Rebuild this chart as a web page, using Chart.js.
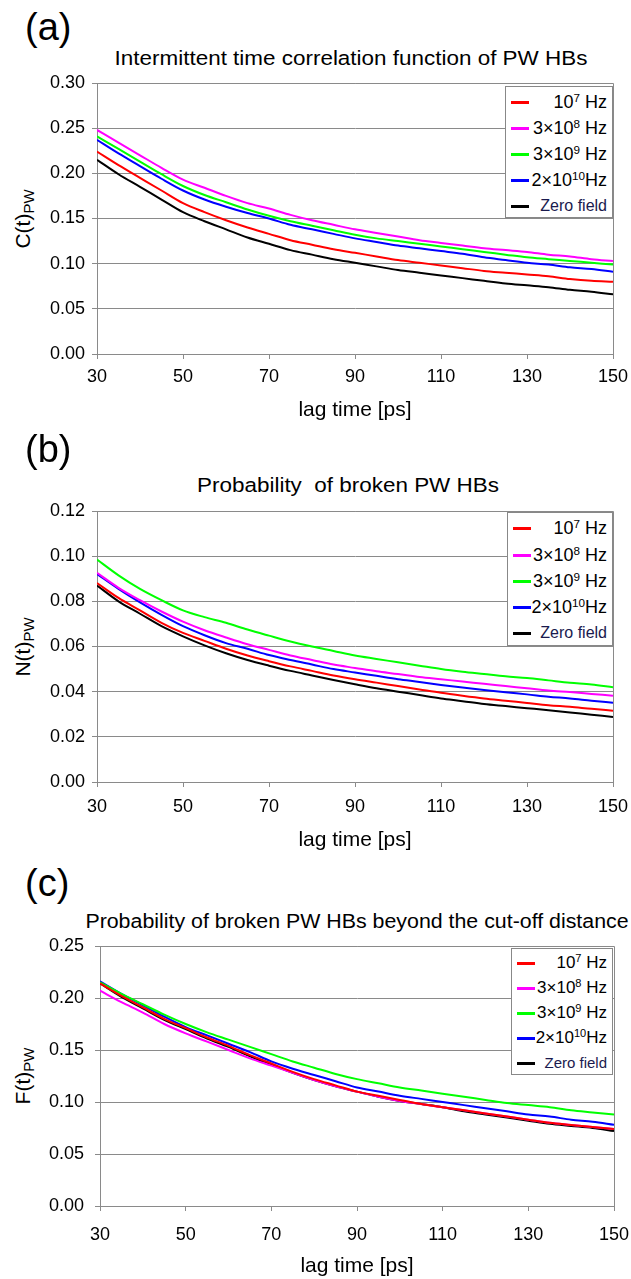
<!DOCTYPE html>
<html>
<head>
<meta charset="utf-8">
<script src="https://cdn.jsdelivr.net/npm/chart.js@4.4.0/dist/chart.umd.min.js"></script>
<style>
  body { margin: 0; background: #fff; font-family: "Liberation Sans", Arial, sans-serif; }
  #page { position: relative; width: 631px; height: 1279px; overflow: hidden; }
  canvas { position: absolute; left: 0; }
  .tag { position: absolute; font-size: 38px; line-height: 38px; }
  .title { position: absolute; white-space: pre; line-height: 22px; transform: translateX(-50%) scaleX(1.095); }
  .ylab { position: absolute; font-size: 21px; line-height: 24px; white-space: nowrap;
          transform: translate(-50%, -50%) rotate(-90deg); }
  .ylab sub { font-size: 15px; vertical-align: -4px; }
  .legend { position: absolute; border: 1px solid #888; background: #fff; box-sizing: border-box; }
  .legend .swatch { position: absolute; height: 3px; }
  .legend .txt { position: absolute; line-height: 20px; white-space: nowrap; text-align: right; }
  .legend sup { font-size: 0.65em; vertical-align: 0.55em; line-height: 0; }
</style>
</head>
<body>
<div id="page"></div>
<script>
/* ===== data ===== */
const lagTimes = [30, 35, 40, 45, 50, 55, 60, 65, 70, 75, 80, 85, 90,
                  95, 100, 105, 110, 115, 120, 125, 130, 135, 140, 145, 150];
const xTicks = [30, 50, 70, 90, 110, 130, 150];

const fieldBase = ["10", "3×10", "3×10", "2×10", "Zero field"];
const fieldExp  = ["7", "8", "9", "10", ""];
const fieldTail = [" Hz", " Hz", " Hz", "Hz", ""];
const fieldColors = ["#ff0000", "#ff00ff", "#00ff00", "#0000ff", "#000000"];

/* (a) intermittent time correlation function C(t) */
const corr_1e7  = [0.224,0.209,0.195,0.181,0.167,0.157,0.148,0.140,0.133,0.126,0.121,0.116,0.112,0.108,0.104,0.101,0.098,0.095,0.092,0.090,0.088,0.086,0.083,0.081,0.080];
const corr_3e8  = [0.248,0.234,0.220,0.206,0.193,0.184,0.175,0.167,0.161,0.154,0.148,0.143,0.138,0.134,0.130,0.126,0.123,0.120,0.117,0.115,0.113,0.110,0.108,0.105,0.103];
const corr_3e9  = [0.241,0.227,0.213,0.199,0.186,0.176,0.168,0.160,0.153,0.147,0.142,0.137,0.132,0.128,0.125,0.122,0.119,0.116,0.113,0.110,0.107,0.105,0.103,0.101,0.099];
const corr_2e10 = [0.237,0.222,0.208,0.194,0.181,0.171,0.163,0.156,0.150,0.143,0.138,0.133,0.128,0.124,0.120,0.117,0.114,0.111,0.107,0.104,0.101,0.099,0.096,0.094,0.091];
const corr_zero = [0.215,0.199,0.185,0.171,0.157,0.147,0.138,0.129,0.122,0.115,0.110,0.105,0.101,0.097,0.093,0.090,0.087,0.084,0.081,0.078,0.076,0.074,0.071,0.069,0.066];
const corrTicks = [0, 0.05, 0.10, 0.15, 0.20, 0.25, 0.30];

/* (b) probability of broken HBs N(t) */
const broken_1e7  = [0.0881,0.0815,0.0760,0.0705,0.0660,0.0625,0.0590,0.0560,0.0535,0.0512,0.0492,0.0472,0.0455,0.0440,0.0425,0.0410,0.0395,0.0382,0.0370,0.0360,0.0350,0.0340,0.0333,0.0324,0.0316];
const broken_3e8  = [0.0926,0.0860,0.0805,0.0755,0.0710,0.0672,0.0640,0.0610,0.0585,0.0560,0.0540,0.0520,0.0505,0.0490,0.0478,0.0465,0.0455,0.0445,0.0435,0.0425,0.0415,0.0405,0.0398,0.0390,0.0382];
const broken_3e9  = [0.0985,0.0915,0.0855,0.0805,0.0760,0.0730,0.0705,0.0675,0.0648,0.0622,0.0600,0.0580,0.0560,0.0545,0.0530,0.0515,0.0500,0.0488,0.0478,0.0468,0.0460,0.0450,0.0440,0.0432,0.0420];
const broken_2e10 = [0.0921,0.0855,0.0795,0.0740,0.0690,0.0650,0.0615,0.0590,0.0562,0.0540,0.0520,0.0500,0.0485,0.0470,0.0455,0.0443,0.0430,0.0418,0.0407,0.0397,0.0388,0.0378,0.0370,0.0360,0.0351];
const broken_zero = [0.0870,0.0800,0.0745,0.0690,0.0645,0.0605,0.0570,0.0540,0.0515,0.0492,0.0472,0.0452,0.0433,0.0415,0.0400,0.0385,0.0370,0.0358,0.0345,0.0336,0.0327,0.0318,0.0308,0.0298,0.0288];
const brokenTicks = [0, 0.02, 0.04, 0.06, 0.08, 0.10, 0.12];

/* (c) broken beyond the cut-off distance F(t) */
const beyond_1e7  = [0.214,0.202,0.191,0.180,0.171,0.162,0.154,0.145,0.137,0.129,0.122,0.116,0.110,0.106,0.102,0.098,0.095,0.092,0.089,0.086,0.083,0.080,0.078,0.076,0.074];
const beyond_3e8  = [0.207,0.196,0.186,0.175,0.166,0.158,0.150,0.142,0.135,0.128,0.121,0.115,0.110,0.105,0.101,0.098,0.095,0.092,0.089,0.086,0.083,0.080,0.078,0.076,0.074];
const beyond_3e9  = [0.215,0.204,0.194,0.184,0.175,0.167,0.160,0.153,0.146,0.139,0.133,0.127,0.122,0.118,0.114,0.111,0.108,0.105,0.102,0.099,0.097,0.095,0.092,0.090,0.088];
const beyond_2e10 = [0.216,0.204,0.193,0.182,0.172,0.164,0.156,0.148,0.139,0.132,0.126,0.120,0.114,0.110,0.106,0.103,0.100,0.097,0.094,0.091,0.088,0.086,0.083,0.081,0.078];
const beyond_zero = [0.214,0.201,0.190,0.179,0.170,0.161,0.153,0.144,0.136,0.128,0.121,0.115,0.110,0.105,0.101,0.098,0.095,0.091,0.088,0.085,0.082,0.079,0.077,0.075,0.072];
const beyondTicks = [0, 0.05, 0.10, 0.15, 0.20, 0.25];

/* ===== layout of the three panels ===== */
const PANELS = [
  { tag: "(a)", tagTop: 8, title: "Intermittent time correlation function of PW HBs",
    titleX: 351, titleTop: 47, titleSize: 20.5, yName: "C(t)",
    series: [corr_1e7, corr_3e8, corr_3e9, corr_2e10, corr_zero], yTicks: corrTicks,
    top: 0, height: 430, left: 97, right: 613, areaTop: 83, areaBottom: 354,
    yPad: 7, xPad: 7, xTitlePad: 7,
    legend: { left: 505, top: 86, width: 108, height: 132, rows: [16, 42, 68, 94, 120], size: 18 } },
  { tag: "(b)", tagTop: 430, title: "Probability  of broken PW HBs",
    titleX: 348, titleTop: 474, titleSize: 20.5, yName: "N(t)",
    series: [broken_1e7, broken_3e8, broken_3e9, broken_2e10, broken_zero], yTicks: brokenTicks,
    top: 430, height: 430, left: 97, right: 613, areaTop: 511, areaBottom: 782,
    yPad: 7, xPad: 9, xTitlePad: 7,
    legend: { left: 507, top: 512, width: 106, height: 134, rows: [16, 43, 69, 95, 121], size: 18 } },
  { tag: "(c)", tagTop: 864, title: "Probability of broken PW HBs beyond the cut-off distance",
    titleX: 357, titleTop: 910, titleSize: 19.5, yName: "F(t)",
    series: [beyond_1e7, beyond_3e8, beyond_3e9, beyond_2e10, beyond_zero], yTicks: beyondTicks,
    top: 860, height: 419, left: 100, right: 614, areaTop: 946, areaBottom: 1206,
    yPad: 11, xPad: 13, xTitlePad: 0,
    legend: { left: 511, top: 948, width: 102, height: 127, rows: [15, 40, 65, 90, 115], size: 17 } }
];

const GRID = "#8a8a8a";
const FONT = "'Liberation Sans', Arial, sans-serif";

/* grey frame round the plot area (top and right sides) */
const framePlugin = {
  id: "frame",
  afterDraw(chart) {
    const { ctx, chartArea: a } = chart;
    const al = p => Math.round(p - 0.5) + 0.5;
    ctx.save();
    ctx.strokeStyle = GRID;
    ctx.lineWidth = 1;
    ctx.beginPath();
    ctx.moveTo(al(a.left), al(a.top));
    ctx.lineTo(al(a.right), al(a.top));
    ctx.lineTo(al(a.right), al(a.bottom));
    ctx.stroke();
    ctx.restore();
  }
};

const page = document.getElementById("page");

function addDiv(cls, html, style) {
  const d = document.createElement("div");
  d.className = cls;
  d.innerHTML = html;
  Object.assign(d.style, style);
  page.appendChild(d);
  return d;
}

function buildLegend(p) {
  const L = p.legend;
  const box = addDiv("legend", "", {
    left: L.left + "px", top: L.top + "px", width: L.width + "px", height: L.height + "px"
  });
  fieldBase.forEach((base, i) => {
    const sw = document.createElement("div");
    sw.className = "swatch";
    Object.assign(sw.style, {
      left: "5px", width: "18px", top: (L.rows[i] - 2.5) + "px", background: fieldColors[i]
    });
    box.appendChild(sw);
    const t = document.createElement("div");
    t.className = "txt";
    const zero = fieldExp[i] === "";
    t.innerHTML = base + (zero ? "" : "<sup>" + fieldExp[i] + "</sup>") + fieldTail[i];
    Object.assign(t.style, {
      right: "5px", top: (L.rows[i] - 11) + "px",
      fontSize: (zero ? L.size - 2 : L.size) + "px",
      color: zero ? "#1a1a4e" : "#000"
    });
    box.appendChild(t);
  });
}

function makePanel(p) {
  addDiv("tag", p.tag, { left: "25px", top: p.tagTop + "px" });
  addDiv("title", p.title, { left: p.titleX + "px", top: p.titleTop + "px", fontSize: p.titleSize + "px" });
  addDiv("ylab", p.yName + "<sub>PW</sub>", {
    left: "26px", top: ((p.areaTop + p.areaBottom) / 2) + "px"
  });

  const cv = document.createElement("canvas");
  cv.width = 631;
  cv.height = p.height;
  cv.style.top = p.top + "px";
  page.appendChild(cv);

  const yTicks = p.yTicks;
  const xAxisHeight = p.top + p.height - p.areaBottom;

  new Chart(cv.getContext("2d"), {
    type: "line",
    data: {
      datasets: p.series.map((vals, i) => ({
        label: fieldBase[i] + fieldExp[i] + fieldTail[i],
        data: vals.map((v, k) => ({ x: lagTimes[k], y: v })),
        borderColor: fieldColors[i],
        borderWidth: 2,
        pointRadius: 0,
        cubicInterpolationMode: "monotone",
        fill: false
      }))
    },
    options: {
      responsive: false,
      animation: false,
      devicePixelRatio: 1,
      layout: { padding: { top: p.areaTop - p.top, right: 631 - p.right, bottom: 0, left: 0 } },
      plugins: { legend: { display: false }, tooltip: { enabled: false } },
      scales: {
        x: {
          type: "linear",
          min: xTicks[0],
          max: xTicks[xTicks.length - 1],
          afterBuildTicks: s => { s.ticks = xTicks.map(v => ({ value: v })); },
          afterFit: s => { s.height = xAxisHeight; s.paddingLeft = 0; s.paddingRight = 0; },
          grid: { drawOnChartArea: false, tickLength: 5, color: GRID },
          border: { color: GRID },
          ticks: { color: "#000", font: { family: FONT, size: 18 }, padding: p.xPad,
                   maxRotation: 0, autoSkip: false },
          title: { display: true, text: "lag time [ps]", color: "#000",
                   font: { family: FONT, size: 21, lineHeight: 1.2 },
                   padding: { top: 0, bottom: p.xTitlePad } }
        },
        y: {
          min: yTicks[0],
          max: yTicks[yTicks.length - 1],
          afterBuildTicks: s => { s.ticks = yTicks.map(v => ({ value: v })); },
          afterFit: s => { s.width = p.left; s.paddingTop = 0; s.paddingBottom = 0; },
          grid: { color: GRID, tickLength: 5 },
          border: { color: GRID },
          ticks: { color: "#000", font: { family: FONT, size: 18 }, padding: p.yPad,
                   callback: v => v.toFixed(2) }
        }
      }
    },
    plugins: [framePlugin]
  });

  buildLegend(p);
}

PANELS.forEach(makePanel);
</script>
</body>
</html>
